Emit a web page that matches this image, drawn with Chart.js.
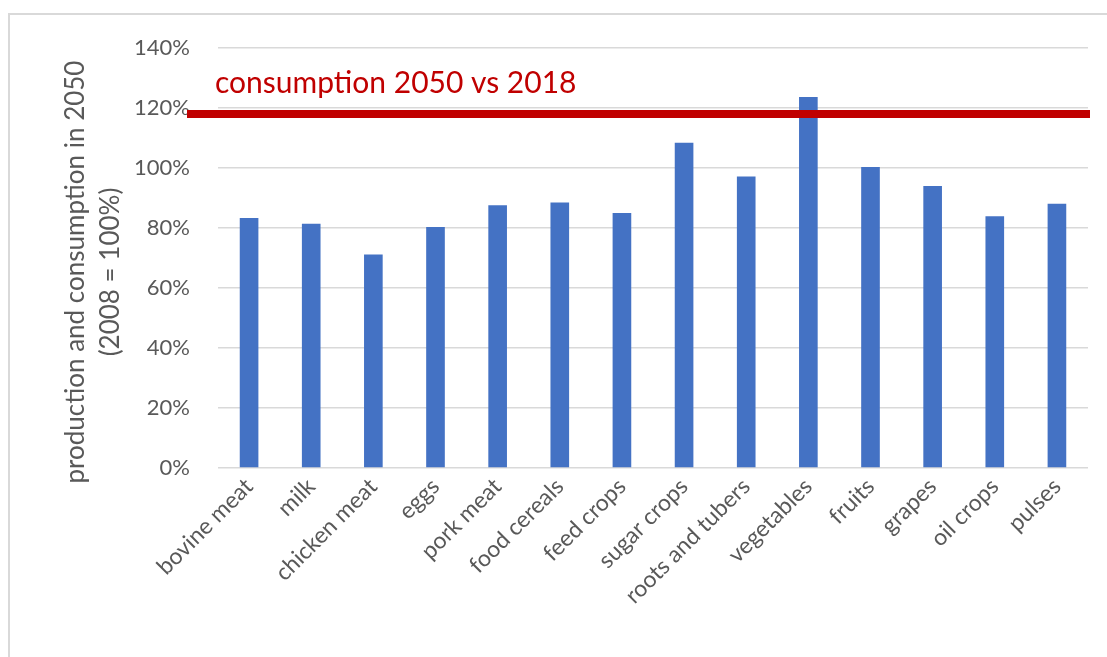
<!DOCTYPE html>
<html>
<head>
<meta charset="utf-8">
<script src="https://cdn.jsdelivr.net/npm/chart.js@4.4.1/dist/chart.umd.min.js"></script>
<style>
    html, body { margin: 0; padding: 0; background: #fff; }
    #wrap { position: relative; width: 1107px; height: 657px; overflow: hidden; }
    #frame { position: absolute; left: 8px; top: 13px; width: 1120px; height: 700px;
             border-top: 2px solid #d9d9d9; border-left: 2px solid #d9d9d9; }
    #chart { position: absolute; left: 0; top: 0; }
</style>
</head>
<body>
<div id="wrap">
    <div id="frame"></div>
    <canvas id="chart" width="1107" height="657"></canvas>
</div>
<script>
const categories = ['bovine meat', 'milk', 'chicken meat', 'eggs', 'pork meat', 'food cereals', 'feed crops',
    'sugar crops', 'roots and tubers', 'vegetables', 'fruits', 'grapes', 'oil crops', 'pulses'];
const production2050 = [83.3, 81.4, 71.2, 80.3, 87.6, 88.5, 85.0, 108.4, 97.2, 123.7, 100.3, 94.0, 83.9, 88.1];
const consumptionLevel = 118;
const consumptionLabel = 'consumption 2050 vs 2018';
const yTicks = [0, 20, 40, 60, 80, 100, 120, 140];
const yTitle = ['production and consumption in 2050', '(2008 = 100%)'];

const fontFamily = 'Lato, "Open Sans", sans-serif';
const grey = '#595959';

// red reference line + its label, drawn over the bars
const consumptionLine = {
    id: 'consumptionLine',
    afterDatasetsDraw(chart) {
        const { ctx, chartArea, scales } = chart;
        const y = scales.y.getPixelForValue(consumptionLevel);
        ctx.save();
        ctx.strokeStyle = '#c00000';
        ctx.lineWidth = 8;
        ctx.beginPath();
        ctx.moveTo(chartArea.left - 31, y);
        ctx.lineTo(chartArea.right + 2, y);
        ctx.stroke();
        ctx.fillStyle = '#c00000';
        ctx.font = '30px ' + fontFamily;
        ctx.textBaseline = 'alphabetic';
        ctx.fillText(consumptionLabel, chartArea.left - 3, y - 21);
        ctx.restore();
    }
};

// y axis title, two rotated lines (Excel centres it a bit lower than the plot)
const yAxisTitle = {
    id: 'yAxisTitle',
    afterDraw(chart) {
        const { ctx } = chart;
        ctx.save();
        ctx.fillStyle = grey;
        ctx.font = '26px ' + fontFamily;
        ctx.textAlign = 'center';
        ctx.textBaseline = 'middle';
        yTitle.forEach((line, i) => {
            ctx.save();
            ctx.translate(76 + i * 35, 272);
            ctx.rotate(-Math.PI / 2);
            ctx.fillText(line, 0, 0);
            ctx.restore();
        });
        ctx.restore();
    }
};

new Chart(document.getElementById('chart').getContext('2d'), {
    type: 'bar',
    data: {
        labels: categories,
        datasets: [{
            data: production2050,
            backgroundColor: '#4472c4',
            borderWidth: 0,
            categoryPercentage: 1,
            barPercentage: 0.3
        }]
    },
    options: {
        responsive: false,
        animation: false,
        layout: { padding: { top: 48, left: 0, right: 19, bottom: 0 } },
        plugins: { legend: { display: false }, tooltip: { enabled: false } },
        scales: {
            x: {
                grid: { display: false },
                border: { display: false },
                ticks: {
                    color: grey,
                    font: { family: fontFamily, size: 23 },
                    minRotation: 45,
                    maxRotation: 45,
                    autoSkip: false,
                    padding: -3
                },
                afterFit(scale) { scale.height = 189; }
            },
            y: {
                min: 0,
                max: 140,
                afterBuildTicks(scale) { scale.ticks = yTicks.map(v => ({ value: v })); },
                grid: { color: '#d9d9d9', lineWidth: 1.5, drawTicks: false },
                border: { display: false },
                ticks: {
                    color: grey,
                    font: { family: fontFamily, size: 22 },
                    padding: 28,
                    callback: v => v + '%'
                },
                afterFit(scale) { scale.width = 218; }
            }
        }
    },
    plugins: [consumptionLine, yAxisTitle]
});
</script>
</body>
</html>
